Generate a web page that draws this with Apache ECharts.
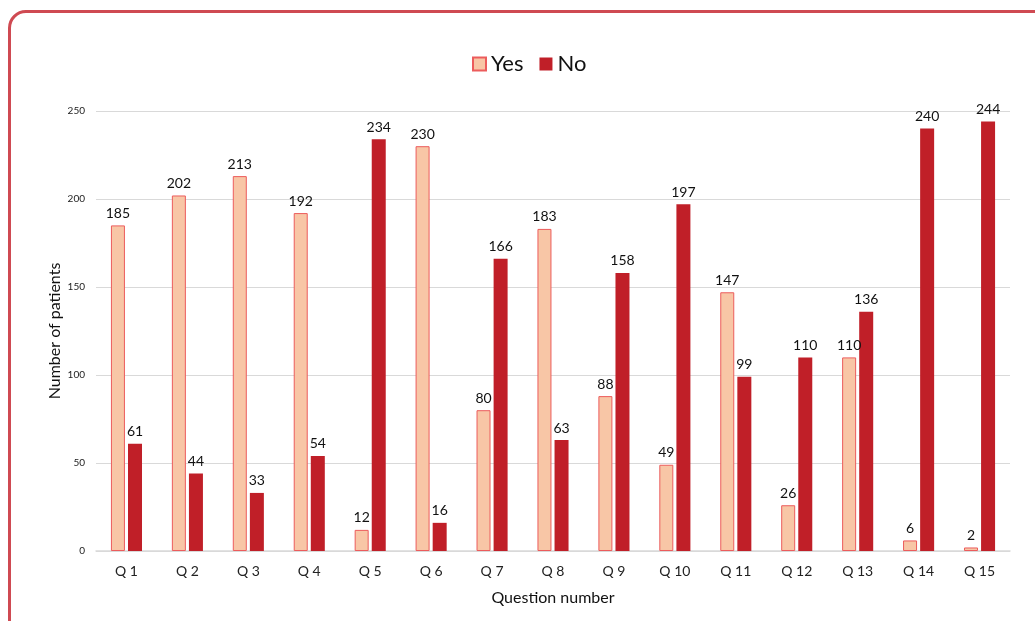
<!DOCTYPE html>
<html>
<head>
<meta charset="utf-8">
<title>Patients per question</title>
<script src="https://cdn.jsdelivr.net/npm/echarts@6/dist/echarts.min.js"></script>
<style>
    html, body { margin: 0; padding: 0; background: #fff; }
    body { width: 1035px; height: 621px; position: relative; overflow: hidden; }
    .card {
        position: absolute; left: 8px; top: 10px; width: 1080px; height: 660px;
        border: 3px solid #cf4a52; border-radius: 18px; box-sizing: border-box;
    }
    #chart { position: absolute; left: 0; top: 0; width: 1035px; height: 621px; }
</style>
</head>
<body>
<div class="card"></div>
<div id="chart"></div>
<script>
var categories = ['Q 1','Q 2','Q 3','Q 4','Q 5','Q 6','Q 7','Q 8','Q 9','Q 10','Q 11','Q 12','Q 13','Q 14','Q 15'];
var yesValues = [185, 202, 213, 192, 12, 230, 80, 183, 88, 49, 147, 26, 110, 6, 2];
var noValues = [61, 44, 33, 54, 234, 16, 166, 63, 158, 197, 99, 110, 136, 240, 244];

var font = 'Lato, "Open Sans", sans-serif';
var chart = echarts.init(document.getElementById('chart'));

function valueLabel() {
    return { show: true, position: 'top', distance: 5, color: '#111', fontSize: 14, fontFamily: font };
}

chart.setOption({
    animation: false,
    textStyle: { fontFamily: font },
    legend: {
        top: 48, left: 467,
        icon: 'rect',
        itemWidth: 13, itemHeight: 13, itemGap: 16,
        textStyle: { fontSize: 22, color: '#111', fontFamily: font },
        data: ['Yes', 'No']
    },
    grid: { left: 96, right: 25, top: 111, bottom: 70 },
    xAxis: {
        type: 'category',
        data: categories,
        name: 'Question number',
        nameLocation: 'middle',
        nameGap: 39,
        nameTextStyle: { fontSize: 16, color: '#111', fontFamily: font },
        axisLine: { lineStyle: { color: '#d9d9d9', width: 1.5 } },
        axisTick: { show: false },
        axisLabel: { fontSize: 14, color: '#222', margin: 13, fontFamily: font }
    },
    yAxis: {
        type: 'value',
        min: 0, max: 250, interval: 50,
        name: 'Number of patients',
        nameLocation: 'middle',
        nameGap: 33,
        nameMoveOverlap: false,
        nameTextStyle: { fontSize: 16, color: '#111', fontFamily: font },
        axisLine: { show: false },
        axisTick: { show: false },
        axisLabel: { fontSize: 10, color: '#222', margin: 11, fontFamily: font },
        splitLine: { lineStyle: { color: '#d9d9d9', width: 1.2 } }
    },
    series: [
        {
            name: 'Yes', type: 'bar', data: yesValues,
            barWidth: 14, barGap: '22%',
            itemStyle: { color: '#f8c6a6', borderColor: '#ec5c5c', borderWidth: 1 },
            label: valueLabel()
        },
        {
            name: 'No', type: 'bar', data: noValues,
            barWidth: 14,
            itemStyle: { color: '#c01f28' },
            label: valueLabel()
        }
    ]
});
</script>
</body>
</html>
